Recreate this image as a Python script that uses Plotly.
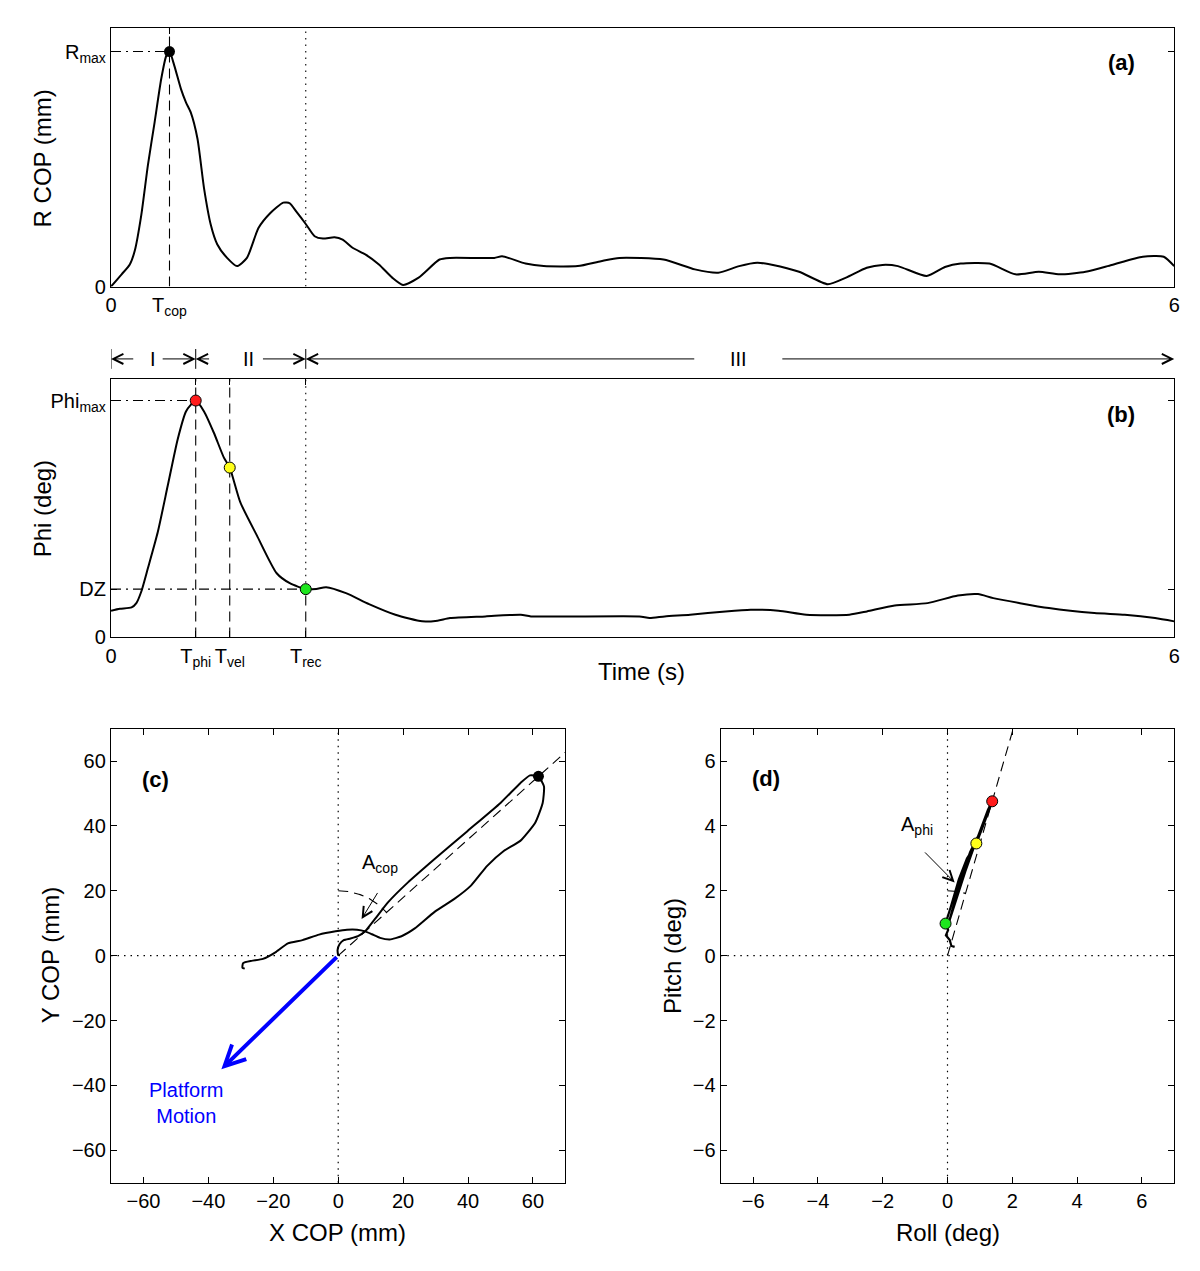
import numpy as np
import plotly.graph_objects as go

FONT = "Liberation Sans, Arial, sans-serif"

# ---- panel (a): radial COP displacement vs time (R_max normalised to 1) ----
t_r = [0.0, 0.06, 0.106, 0.134, 0.171, 0.208, 0.246, 0.283, 0.311, 0.33,
       0.358, 0.395, 0.423, 0.45, 0.488, 0.525, 0.563, 0.6, 0.655, 0.711,
       0.767, 0.832, 0.898, 0.972, 1.009, 1.046, 1.102, 1.149, 1.196, 1.261,
       1.307, 1.363, 1.437, 1.512, 1.587, 1.648, 1.736, 1.854, 1.913, 2.163,
       2.207, 2.339, 2.442, 2.634, 2.765, 2.869, 3.118, 3.295, 3.427, 3.545,
       3.647, 3.736, 3.883, 4.045, 4.148, 4.265, 4.354, 4.441, 4.603, 4.706,
       4.795, 4.957, 5.104, 5.236, 5.354, 5.5, 5.647, 5.823, 5.941, 6.0]
r_cop = [0.0, 0.052, 0.094, 0.152, 0.305, 0.516, 0.699, 0.882, 0.98, 1.0,
         0.938, 0.84, 0.784, 0.741, 0.629, 0.418, 0.263, 0.179, 0.122, 0.087,
         0.122, 0.249, 0.312, 0.357, 0.354, 0.319, 0.263, 0.214, 0.204, 0.21,
         0.2, 0.165, 0.136, 0.094, 0.038, 0.007, 0.038, 0.115, 0.122, 0.122,
         0.129, 0.098, 0.087, 0.087, 0.108, 0.122, 0.115, 0.073, 0.059, 0.087,
         0.101, 0.092, 0.063, 0.01, 0.038, 0.08, 0.092, 0.087, 0.045, 0.083,
         0.098, 0.098, 0.052, 0.063, 0.052, 0.063, 0.092, 0.127, 0.127, 0.087]

# ---- panel (b): tilt angle Phi vs time (Phi_max normalised to 1) ----
t_phi = [0.0, 0.05, 0.116, 0.143, 0.171, 0.208, 0.264, 0.32, 0.376, 0.423,
         0.45, 0.478, 0.525, 0.581, 0.637, 0.67, 0.73, 0.823, 0.935, 1.009,
         1.099, 1.158, 1.214, 1.326, 1.456, 1.605, 1.756, 1.842, 1.913, 2.113,
         2.313, 2.37, 2.982, 3.039, 3.125, 3.268, 3.468, 3.61, 3.767, 3.924,
         4.167, 4.266, 4.423, 4.608, 4.779, 4.893, 4.979, 5.293, 5.549, 5.721,
         5.892, 6.0]
phi = [0.113, 0.121, 0.127, 0.145, 0.194, 0.292, 0.445, 0.64, 0.836, 0.954,
       0.982, 1.0, 0.954, 0.863, 0.759, 0.717, 0.57, 0.431, 0.271, 0.229,
       0.204, 0.205, 0.212, 0.187, 0.141, 0.096, 0.068, 0.071, 0.082, 0.089,
       0.096, 0.089, 0.089, 0.082, 0.089, 0.096, 0.11, 0.117, 0.113, 0.096,
       0.096, 0.11, 0.135, 0.145, 0.177, 0.183, 0.166, 0.124, 0.103, 0.096,
       0.082, 0.068]

T_COP, R_MAX = 0.33, 1.0
T_PHI, PHI_MAX = 0.478, 1.0
T_VEL, PHI_VEL = 0.67, 0.717
T_REC, DZ = 1.099, 0.204
T_END = 6.0
R_TOP = 1.101
PHI_TOP = 1.092

# phase labels above panel (b)
phase_names = ["I", "II", "III"]
phase_text_t = [0.235, 0.777, 3.54]

# ---- panel (c): COP trajectory (mm) ----
x_cop = [0.0, -0.2, 0.4, 1.7, 3.8, 6.1, 8.3, 11.4, 15.4, 21.5, 29.7, 39.8,
         50.0, 56.1, 59.1, 61.7, 63.4, 63.0, 60.7, 56.1, 51.0, 45.9, 40.9,
         35.8, 29.7, 23.6, 19.5, 15.9, 12.9, 10.4, 8.3, 5.8, 2.7, -0.8, -5.9,
         -11.0, -15.5, -19.1, -23.2, -26.7, -29.3, -29.5, -28.8]
y_cop = [0.0, 1.7, 3.5, 4.8, 5.3, 6.0, 7.5, 11.4, 16.5, 22.6, 29.8, 38.4,
         47.1, 53.2, 55.6, 55.3, 52.2, 47.1, 41.0, 35.4, 32.3, 27.7, 21.6,
         17.5, 13.5, 8.4, 6.0, 5.0, 5.5, 6.6, 7.5, 8.0, 8.0, 7.5, 6.5, 4.8,
         3.8, 1.2, -1.0, -1.6, -2.3, -3.7, -4.0]
COP_PEAK = (61.7, 55.3)
PLATFORM_TIP = (-36.0, -35.0)

# ---- panel (d): roll / pitch trajectory (deg) ----
roll = [0.22, 0.12, 0.07, -0.05, 0.02, -0.06, 0.1, 0.35, 0.6, 0.89, 1.1,
        1.38, 1.25, 1.0, 0.8, 0.55, 0.3, 0.15, 0.05, 0.2, 0.45, 0.7, 0.95,
        1.3]
pitch = [0.27, 0.3, 0.48, 0.63, 0.79, 0.99, 1.5, 2.35, 3.0, 3.46, 4.0,
         4.76, 4.5, 3.85, 3.3, 2.6, 1.8, 1.35, 1.05, 1.6, 2.5, 3.2, 3.7, 4.6]
event_roll = [1.38, 0.89, -0.06]
event_pitch = [4.76, 3.46, 0.99]
event_colors = ["#ff1a1a", "#ffff1a", "#1ee61e"]

# the page body keeps its default 8px margin, so the figure is shrunk by it
OFF = 8
W, H = 1200 - OFF, 1271 - OFF


def px(x):
    return (x - OFF) / W


def py(y):
    return 1 - (y - OFF) / H


TOP_X = [px(106), px(1180)]
A_Y = [py(289), py(28)]
B_Y = [py(643), py(382)]
C_X = [px(106), px(565)]
D_X = [px(722), px(1180)]
CD_Y = [py(1193), py(735)]
ROW_Y = py(362)

DASH = "10px,6px"
DASHDOT = "10px,5px,2px,5px"
DOT = "1.5px,5px"


def seg(xref, yref, x0, y0, x1, y1, dash, width=1.1):
    return dict(type="line", xref=xref, yref=yref, x0=x0, y0=y0, x1=x1,
                y1=y1, layer="below",
                line=dict(color="black", width=width, dash=dash))


def arc(r, a0, a1, n=40):
    a = np.linspace(a0, a1, n)
    return r * np.cos(a), r * np.sin(a)


fig = go.Figure()

# (a)
fig.add_trace(go.Scatter(x=t_r, y=r_cop, mode="lines", xaxis="x", yaxis="y",
                         line=dict(color="black", width=2, shape="spline",
                                   smoothing=0.6)))
fig.add_trace(go.Scatter(x=[T_COP], y=[R_MAX], mode="markers", xaxis="x",
                         yaxis="y", marker=dict(color="black", size=11)))
# (b)
fig.add_trace(go.Scatter(x=t_phi, y=phi, mode="lines", xaxis="x2",
                         yaxis="y2", line=dict(color="black", width=2,
                                               shape="spline", smoothing=0.6)))
fig.add_trace(go.Scatter(x=[T_PHI, T_VEL, T_REC], y=[PHI_MAX, PHI_VEL, DZ],
                         mode="markers", xaxis="x2", yaxis="y2",
                         marker=dict(color=event_colors, size=11,
                                     line=dict(color="black", width=1))))
# (c)
slope_c = COP_PEAK[1] / COP_PEAK[0]
fig.add_trace(go.Scatter(x=[0, 70], y=[0, 70 * slope_c], mode="lines",
                         xaxis="x3", yaxis="y3",
                         line=dict(color="black", width=1.1, dash=DASH)))
ax_c, ay_c = arc(20, np.pi / 2, np.arctan2(COP_PEAK[1], COP_PEAK[0]))
fig.add_trace(go.Scatter(x=ax_c, y=ay_c, mode="lines", xaxis="x3", yaxis="y3",
                         line=dict(color="black", width=1.1, dash=DASH)))
fig.add_trace(go.Scatter(x=x_cop, y=y_cop, mode="lines", xaxis="x3",
                         yaxis="y3", line=dict(color="black", width=2,
                                               shape="spline", smoothing=0.5)))
fig.add_trace(go.Scatter(x=[COP_PEAK[0]], y=[COP_PEAK[1]], mode="markers",
                         xaxis="x3", yaxis="y3",
                         marker=dict(color="black", size=11)))
# (d)
slope_d = event_pitch[0] / event_roll[0]
fig.add_trace(go.Scatter(x=[0, 7 / slope_d], y=[0, 7], mode="lines",
                         xaxis="x4", yaxis="y4",
                         line=dict(color="black", width=1.1, dash=DASH)))
ax_d, ay_d = arc(2, np.pi / 2, np.arctan2(event_pitch[0], event_roll[0]))
fig.add_trace(go.Scatter(x=ax_d, y=ay_d, mode="lines", xaxis="x4", yaxis="y4",
                         line=dict(color="black", width=1.1, dash=DASH)))
fig.add_trace(go.Scatter(x=roll, y=pitch, mode="lines", xaxis="x4",
                         yaxis="y4", line=dict(color="black", width=2.2)))
fig.add_trace(go.Scatter(x=event_roll, y=event_pitch, mode="markers",
                         xaxis="x4", yaxis="y4",
                         marker=dict(color=event_colors, size=11,
                                     line=dict(color="black", width=1))))

shapes = [
    # (a)
    seg("x", "y", T_COP, 0, T_COP, R_TOP, DASH),
    seg("x", "y", 0, R_MAX, T_COP, R_MAX, DASHDOT),
    seg("x", "y", T_REC, 0, T_REC, R_TOP, DOT),
    # (b)
    seg("x2", "y2", T_PHI, 0, T_PHI, PHI_TOP, DASH),
    seg("x2", "y2", T_VEL, 0, T_VEL, PHI_TOP, DASH),
    seg("x2", "y2", T_REC, 0, T_REC, DZ, DASH),
    seg("x2", "y2", T_REC, DZ, T_REC, PHI_TOP, DOT),
    seg("x2", "y2", 0, PHI_MAX, T_PHI, PHI_MAX, DASHDOT),
    seg("x2", "y2", 0, DZ, T_REC, DZ, DASHDOT),
    # (c) and (d) zero lines
    seg("x3", "y3", 0, -70, 0, 70, DOT, 1.2),
    seg("x3", "y3", -70, 0, 70, 0, DOT, 1.2),
    seg("x4", "y4", 0, -7, 0, 7, DOT, 1.2),
    seg("x4", "y4", -7, 0, 7, 0, DOT, 1.2),
]
# phase boundary bars above (b)
for tb in [0, T_PHI, T_REC]:
    shapes.append(dict(type="line", xref="x2", yref="paper", x0=tb, x1=tb,
                       y0=py(372), y1=py(352),
                       line=dict(color="black", width=1)))

annotations = []


def label(text, x, y, xref, yref, size=20, bold=False, color="black",
          angle=0):
    if bold:
        text = "<b>" + text + "</b>"
    annotations.append(dict(text=text, x=x, y=y, xref=xref, yref=yref,
                            xanchor="center", yanchor="middle",
                            showarrow=False, textangle=angle,
                            font=dict(size=size, family=FONT, color=color)))


def arrow(x, y, ax, ay, xref, yref, width=1, size=2, color="black",
          flat=False):
    a = dict(text="", x=x, y=y, ax=ax, xref=xref, yref=yref, axref=xref,
             showarrow=True, arrowhead=5, arrowsize=size, arrowwidth=width,
             arrowcolor=color)
    if flat:
        a.update(ay=0, ayref="pixel")
    else:
        a.update(ay=ay, ayref=yref)
    annotations.append(a)


# phase arrows
arrow(0, ROW_Y, 0.134, None, "x2", "paper", flat=True)
arrow(T_PHI, ROW_Y, 0.283, None, "x2", "paper", flat=True)
arrow(T_PHI, ROW_Y, 0.562, None, "x2", "paper", flat=True)
arrow(T_REC, ROW_Y, 0.849, None, "x2", "paper", flat=True)
arrow(T_REC, ROW_Y, 3.30, None, "x2", "paper", flat=True)
arrow(T_END, ROW_Y, 3.78, None, "x2", "paper", flat=True)
for name, tt in zip(phase_names, phase_text_t):
    label(name, tt, ROW_Y, "x2", "paper")

# panel letters
label("(a)", 5.70, 0.954, "x", "y", size=22, bold=True)
label("(b)", 5.70, 0.941, "x2", "y2", size=22, bold=True)
label("(c)", -56.2, 54.3, "x3", "y3", size=22, bold=True)
label("(d)", -5.6, 5.45, "x4", "y4", size=22, bold=True)

# angle annotations
label("A<sub>cop</sub>", 12.9, 28.5, "x3", "y3")
arrow(7.2, 11.3, 12.4, 19.8, "x3", "y3", size=2)
label("A<sub>phi</sub>", -0.95, 4.02, "x4", "y4")
arrow(0.22, 2.26, -0.74, 3.23, "x4", "y4", size=2)

# platform motion
arrow(PLATFORM_TIP[0], PLATFORM_TIP[1], 0, 0, "x3", "y3", width=4, size=1.0,
      color="#0000ff")
label("Platform<br>Motion", -47, -45.3, "x3", "y3", color="#0000ff")

# axis titles
label("R COP (mm)", px(37), py(160), "paper", "paper", size=24, angle=-90)
label("Phi (deg)", px(37), py(513), "paper", "paper", size=24, angle=-90)
label("Time (s)", px(642), py(677), "paper", "paper", size=24)
label("Y COP (mm)", px(45), py(964), "paper", "paper", size=24, angle=-90)
label("X COP (mm)", px(335), py(1243), "paper", "paper", size=24)
label("Pitch (deg)", px(673), py(964), "paper", "paper", size=24, angle=-90)
label("Roll (deg)", px(951), py(1243), "paper", "paper", size=24)

axis_style = dict(showline=True, linecolor="black", linewidth=1.3,
                  mirror="ticks", ticks="inside", ticklen=6, tickwidth=1,
                  tickcolor="black", showgrid=False, zeroline=False,
                  tickfont=dict(size=20, family=FONT, color="black"))

fig.update_layout(
    width=W, height=H, showlegend=False,
    margin=dict(l=0, r=0, t=0, b=0),
    paper_bgcolor="white", plot_bgcolor="white",
    font=dict(family=FONT, color="black"),
    xaxis=dict(axis_style, domain=TOP_X, range=[0, T_END], anchor="y",
               tickvals=[0, T_COP, T_END],
               ticktext=["0", "T<sub>cop</sub>", "6"]),
    yaxis=dict(axis_style, domain=A_Y, range=[0, R_TOP], anchor="x",
               tickvals=[0, R_MAX], ticktext=["0", "R<sub>max</sub>"]),
    xaxis2=dict(axis_style, domain=TOP_X, range=[0, T_END], anchor="y2",
                tickvals=[0, T_PHI, T_VEL, T_REC, T_END],
                ticktext=["0", "T<sub>phi</sub>", "T<sub>vel</sub>",
                          "T<sub>rec</sub>", "6"]),
    yaxis2=dict(axis_style, domain=B_Y, range=[0, PHI_TOP], anchor="x2",
                tickvals=[0, DZ, PHI_MAX],
                ticktext=["0", "DZ", "Phi<sub>max</sub>"]),
    xaxis3=dict(axis_style, domain=C_X, range=[-70, 70], anchor="y3",
                tick0=0, dtick=20),
    yaxis3=dict(axis_style, domain=CD_Y, range=[-70, 70], anchor="x3",
                tick0=0, dtick=20),
    xaxis4=dict(axis_style, domain=D_X, range=[-7, 7], anchor="y4",
                tick0=0, dtick=2),
    yaxis4=dict(axis_style, domain=CD_Y, range=[-7, 7], anchor="x4",
                tick0=0, dtick=2),
    shapes=shapes,
    annotations=annotations,
)

fig.write_html("out.html")
